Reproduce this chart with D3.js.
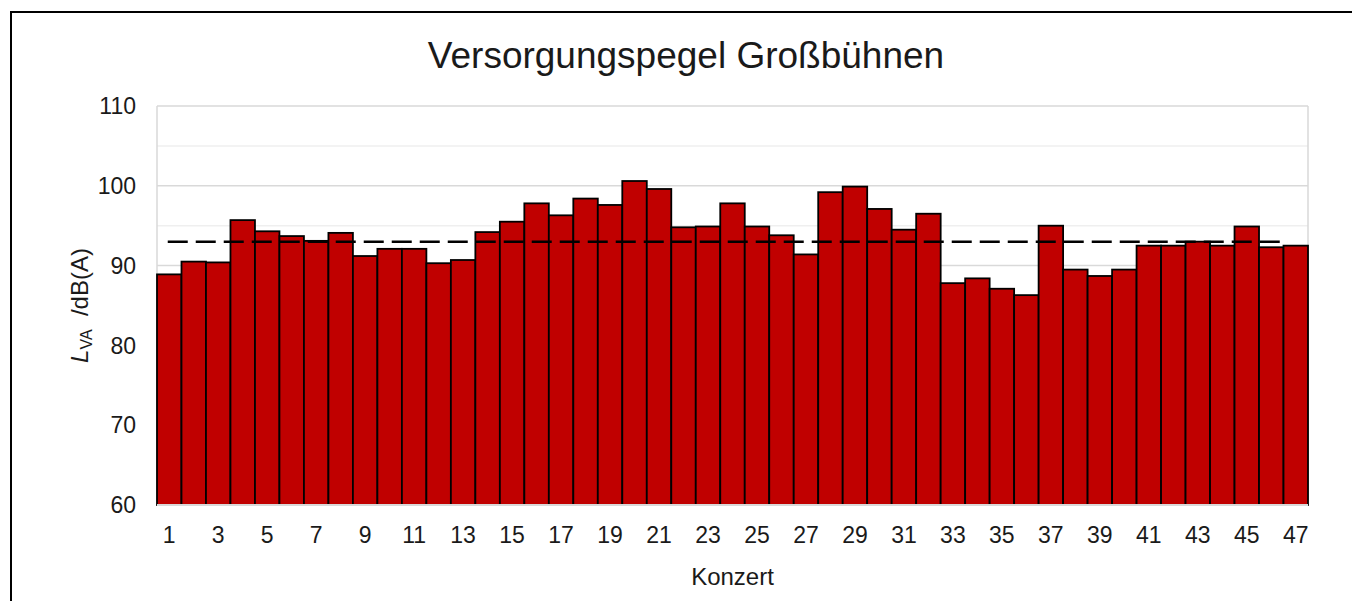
<!DOCTYPE html>
<html lang="de">
  <head>
    <meta charset="utf-8">
    <title>Versorgungspegel Großbühnen</title>
    <script src="https://cdn.jsdelivr.net/npm/d3@7"></script>
    <style>
    body {
      margin: 0;
      background: white;
      font-family: "Liberation Sans", Arial, sans-serif;
    }
    .grid-major { stroke: #d9d9d9; stroke-width: 1.5; }
    .grid-minor { stroke: #efefef; stroke-width: 1.5; }
    .bar { fill: #c00000; stroke: black; stroke-width: 1.8; }
    .tick-label { font-size: 23px; fill: #1a1a1a; }
    </style>
  </head>
  <body>
    <svg id="chart"></svg>
  <script>

  // Konzert numbers
  var konzerte = d3.range(1, 48)

  // L_VA per concert, dB(A)
  var pegel = [
    88.9, 90.5, 90.4, 95.7, 94.3, 93.7, 93.1, 94.1, 91.2, 92.1,
    92.1, 90.3, 90.7, 94.2, 95.5, 97.8, 96.3, 98.4, 97.6, 100.6,
    99.6, 94.8, 94.9, 97.8, 94.9, 93.8, 91.4, 99.2, 99.9, 97.1,
    94.5, 96.5, 87.8, 88.4, 87.1, 86.3, 95.0, 89.5, 88.7, 89.5,
    92.5, 92.5, 93.0, 92.5, 94.9, 92.3, 92.5
  ]

  // dashed average line
  var mittelwert = 93.0

  var yMajorTicks = [60, 70, 80, 90, 100, 110]
  var yMinorTicks = [65, 75, 85, 95, 105]
  var xTickLabels = konzerte.filter(function(k){ return k % 2 == 1 })

  var W = 1352, H = 601
  var margin = {top: 106, right: 44, bottom: 96, left: 157}
  var width = W - margin.left - margin.right
  var height = H - margin.top - margin.bottom

  var svg = d3.select("#chart")
    .attr("width", W)
    .attr("height", H)

  // outer chart frame (runs past the bottom/right edge)
  svg.append("rect")
    .attr("x", 11).attr("y", 12)
    .attr("width", W + 20).attr("height", H + 20)
    .attr("fill", "white")
    .attr("stroke", "black")
    .attr("stroke-width", 2)

  var g = svg.append("g")
    .attr("transform", "translate(" + margin.left + "," + margin.top + ")")

  var x = d3.scaleBand().domain(konzerte).range([0, width]).padding(0)
  var y = d3.scaleLinear().domain([60, 110]).range([height, 0])

  // gridlines
  g.selectAll(".grid-minor").data(yMinorTicks).enter().append("line")
    .attr("class", "grid-minor")
    .attr("x1", 0).attr("x2", width)
    .attr("y1", function(d){ return y(d) })
    .attr("y2", function(d){ return y(d) })

  g.selectAll(".grid-major").data(yMajorTicks).enter().append("line")
    .attr("class", "grid-major")
    .attr("x1", 0).attr("x2", width)
    .attr("y1", function(d){ return y(d) })
    .attr("y2", function(d){ return y(d) })

  // plot area side lines
  g.append("line").attr("class", "grid-major")
    .attr("x1", 0).attr("x2", 0).attr("y1", 0).attr("y2", height)
  g.append("line").attr("class", "grid-major")
    .attr("x1", width).attr("x2", width).attr("y1", 0).attr("y2", height)

  // bars
  g.selectAll(".bar").data(pegel).enter().append("rect")
    .attr("class", "bar")
    .attr("x", function(d, i){ return x(konzerte[i]) })
    .attr("width", x.bandwidth())
    .attr("y", function(d){ return y(d) })
    .attr("height", function(d){ return height - y(d) })

  // axis line at bottom
  g.append("line")
    .attr("x1", 0).attr("x2", width)
    .attr("y1", height).attr("y2", height)
    .attr("stroke", "#d9d9d9").attr("stroke-width", 2)

  // mean line
  g.append("line")
    .attr("x1", x(1) + x.bandwidth() / 2 - 1.5)
    .attr("x2", x(47) + x.bandwidth() / 2 - 8)
    .attr("y1", y(mittelwert)).attr("y2", y(mittelwert))
    .attr("stroke", "black")
    .attr("stroke-width", 2.5)
    .attr("stroke-dasharray", "20,8")

  // y tick labels
  g.selectAll(".ylab").data(yMajorTicks).enter().append("text")
    .attr("class", "tick-label")
    .attr("x", -21)
    .attr("y", function(d){ return y(d) })
    .attr("dy", "0.36em")
    .attr("text-anchor", "end")
    .text(function(d){ return d })

  // x tick labels
  g.selectAll(".xlab").data(xTickLabels).enter().append("text")
    .attr("class", "tick-label")
    .attr("x", function(d){ return x(d) + x.bandwidth() / 2 })
    .attr("y", height + 38)
    .attr("text-anchor", "middle")
    .text(function(d){ return d })

  // title
  svg.append("text")
    .attr("x", 686)
    .attr("y", 68)
    .attr("text-anchor", "middle")
    .attr("font-size", "37px")
    .attr("fill", "#1a1a1a")
    .text("Versorgungspegel Großbühnen")

  // x axis title
  g.append("text")
    .attr("x", width / 2)
    .attr("y", height + 80)
    .attr("text-anchor", "middle")
    .attr("font-size", "24px")
    .attr("fill", "#1a1a1a")
    .text("Konzert")

  // y axis title: L_VA /dB(A)
  var yt = svg.append("text")
    .attr("transform", "translate(88," + (margin.top + height / 2) + ") rotate(-90)")
    .attr("text-anchor", "middle")
    .attr("font-size", "24px")
    .attr("fill", "#1a1a1a")
  yt.append("tspan").attr("font-style", "italic").text("L")
  yt.append("tspan").attr("font-size", "16px").attr("dy", "4").text("VA")
  yt.append("tspan").attr("dy", "-4").text("\u00a0\u00a0/dB(A)")

  </script>
  </body>
</html>
